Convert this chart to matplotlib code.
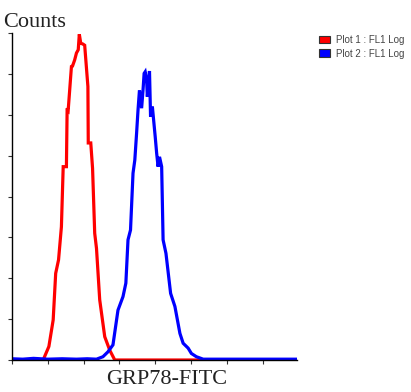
import matplotlib.pyplot as plt
from matplotlib.patches import Patch

# Histogramm-Daten (x in Dekaden, y in Zaehl-Einheiten)
red_x = [0.0, 0.87, 1.03, 1.15, 1.22, 1.30, 1.38, 1.43, 1.52, 1.54, 1.57, 1.66, 1.69,
         1.75, 1.80, 1.85, 1.88, 1.92, 1.98, 2.03, 2.12, 2.13, 2.20, 2.25, 2.31, 2.36,
         2.45, 2.59, 2.73, 2.87, 8.0]
red_y = [0.0, 0.0, 0.33, 0.98, 2.12, 2.45, 3.26, 4.73, 4.73, 6.16, 6.12, 7.18, 7.19,
         7.34, 7.51, 7.59, 7.97, 7.75, 7.73, 7.70, 6.69, 5.31, 5.31, 4.69, 3.10, 2.73,
         1.47, 0.57, 0.24, 0.0, 0.0]

blue_x = [0.0, 0.3, 0.6, 1.0, 1.4, 1.8, 2.1, 2.36, 2.54, 2.68, 2.82, 2.96, 3.10, 3.18, 3.24,
          3.31, 3.38, 3.43, 3.48, 3.52, 3.56, 3.62, 3.66, 3.69, 3.72, 3.76, 3.78, 3.84,
          3.87, 3.92, 4.00, 4.04, 4.08, 4.12, 4.18, 4.22, 4.30, 4.43, 4.55, 4.69, 4.78,
          4.92, 5.01, 5.15, 5.34, 8.0]
blue_y = [0.03, 0.02, 0.04, 0.02, 0.03, 0.02, 0.03, 0.02, 0.08, 0.20, 0.37, 1.22, 1.55,
          1.88, 2.94, 3.18, 4.57, 4.89, 5.55, 6.12, 6.60, 6.16, 6.61, 7.01, 7.05, 6.85,
          6.44, 7.07, 5.95, 6.20, 5.46, 5.06, 4.73, 4.97, 4.73, 2.94, 2.61, 1.63, 1.31,
          0.65, 0.41, 0.29, 0.16, 0.08, 0.02, 0.02]

legend_labels = ["Plot 1 : FL1 Log", "Plot 2 : FL1 Log"]

fig = plt.figure(figsize=(4.11, 3.92), dpi=100)
ax = fig.add_axes([12 / 411, 32 / 392, 285 / 411, 327 / 392])

ax.plot(red_x, red_y, color="#ff0000", lw=2.3, solid_joinstyle="miter")
ax.plot(blue_x, blue_y, color="#0000ff", lw=2.3, solid_joinstyle="miter")

ax.set_xlim(0, 7.96)
ax.set_ylim(0, 8)
ax.set_xticks(range(0, 8))
ax.set_yticks(range(0, 9))
ax.set_xticklabels([])
ax.set_yticklabels([])
ax.tick_params(length=3, width=0.8, color="#333333")
for s in ["top", "right"]:
    ax.spines[s].set_visible(False)
for s in ["left", "bottom"]:
    ax.spines[s].set_linewidth(1.0)

fig.text(3 / 411, 1 - 27 / 392, "Counts", fontsize=16, family="Liberation Serif",
         color="#222222", va="baseline", ha="left")
fig.text(167 / 411, 1 - 384 / 392, "GRP78-FITC", fontsize=16, family="Liberation Serif",
         color="#222222", va="baseline", ha="center")

handles = [Patch(facecolor="#ff0000", edgecolor="#333333", lw=0.8),
           Patch(facecolor="#0000ff", edgecolor="#333333", lw=0.8)]
fig.legend(handles, legend_labels, loc="upper left", bbox_to_anchor=(312 / 411, 1 - 28 / 392),
           frameon=False, prop={"family": "Liberation Sans", "size": 7},
           labelcolor="#444444", handlelength=1.2, handleheight=0.85, handletextpad=0.6,
           labelspacing=0.4, borderpad=0.2)

fig.savefig("out.png", dpi=100)
